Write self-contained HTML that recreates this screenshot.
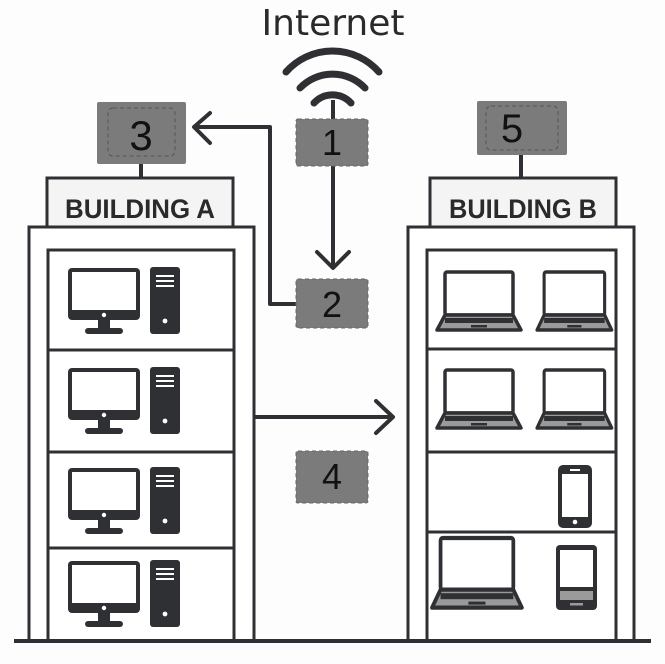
<!DOCTYPE html>
<html><head><meta charset="utf-8"><style>
html,body{margin:0;padding:0;background:#fdfdfd;}
svg{display:block}
</style></head><body>
<svg width="665" height="664" viewBox="0 0 665 664" xmlns="http://www.w3.org/2000/svg">
<defs>
<g id="desk">
  <rect x="0" y="0" width="72" height="52" rx="4" fill="#2f3033"/>
  <rect x="4" y="4" width="64" height="38" fill="#fff"/>
  <circle cx="36" cy="47" r="2.2" fill="#fff"/>
  <rect x="30" y="52" width="12" height="9" fill="#2f3033"/>
  <rect x="17" y="60" width="38" height="6" rx="3" fill="#2f3033"/>
  <rect x="82" y="-1" width="30" height="67" rx="3" fill="#2f3033"/>
  <rect x="88" y="7" width="18" height="2" fill="#fff"/>
  <rect x="88" y="12" width="18" height="2" fill="#fff"/>
  <rect x="88" y="17" width="18" height="2" fill="#fff"/>
  <circle cx="97" cy="53" r="2.4" fill="#fff"/>
</g>
<g id="lap">
  <rect x="8" y="0" width="68" height="43" rx="2" fill="#fff" stroke="#2f3033" stroke-width="3.5"/>
  <path d="M8 43 L76 43 L84 58 L0 58 Z" fill="#9a9a9a" stroke="#2f3033" stroke-width="3.5" stroke-linejoin="round"/>
  <rect x="8" y="46" width="68" height="5" fill="#2f3033"/>
  <rect x="34" y="53" width="16" height="2.5" fill="#2f3033"/>
</g>
</defs>

<text x="333" y="35" text-anchor="middle" font-family="'DejaVu Sans','Liberation Sans',sans-serif" font-size="36" fill="#2a2a2a">Internet</text>

<!-- wifi -->
<g fill="none" stroke="#2f3033" stroke-width="7" stroke-linecap="round">
  <path d="M286 72 A62 62 0 0 1 379 72"/>
  <path d="M300 88 A45 45 0 0 1 365 88"/>
  <path d="M314 103 A25 25 0 0 1 351 103"/>
</g>
<line x1="333" y1="100" x2="333" y2="120" stroke="#2f3033" stroke-width="4"/>

<!-- connectors -->
<g fill="none" stroke="#2f3033" stroke-width="4" stroke-linecap="round" stroke-linejoin="round">
  <line x1="333" y1="166" x2="333" y2="266"/>
  <path d="M317 252 L333 268 L349 252"/>
  <path d="M296 304 L270 304 L270 127 L196 127"/>
  <path d="M210 113 L194 127 L210 143"/>
  <line x1="255" y1="417" x2="392" y2="417"/>
  <path d="M376 401 L393 417 L376 433"/>
  <line x1="141" y1="163" x2="141" y2="178"/>
  <line x1="521" y1="154" x2="521" y2="178"/>
</g>

<!-- number boxes -->
<g font-family="'Liberation Sans',sans-serif" fill="#111" text-anchor="middle">
  <rect x="97" y="102" width="89" height="62" rx="2" fill="#7b7b7b"/>
  <rect x="108" y="108" width="67" height="48" rx="5" fill="none" stroke="#555" stroke-dasharray="4 3"/>
  <text x="141" y="150" font-size="42">3</text>
  <rect x="296" y="119" width="72" height="47" rx="2" fill="#7b7b7b" stroke="#666" stroke-dasharray="4 3"/>
  <text x="332" y="155" font-size="36">1</text>
  <rect x="296" y="279" width="72" height="49" rx="2" fill="#7b7b7b" stroke="#666" stroke-dasharray="4 3"/>
  <text x="332" y="317" font-size="36">2</text>
  <rect x="296" y="451" width="72" height="52" rx="2" fill="#7b7b7b" stroke="#666" stroke-dasharray="4 3"/>
  <text x="332" y="489" font-size="36">4</text>
  <rect x="477" y="101" width="90" height="54" rx="2" fill="#7b7b7b"/>
  <rect x="486" y="106" width="72" height="44" rx="5" fill="none" stroke="#555" stroke-dasharray="4 3"/>
  <text x="512" y="142" font-size="40">5</text>
</g>

<!-- Building A -->
<g fill="none" stroke="#2f3033" stroke-width="3">
  <rect x="47" y="178" width="186" height="49" fill="#f4f4f4"/>
  <rect x="29" y="227" width="225" height="414" fill="#fff"/>
  <rect x="48" y="250" width="186" height="391"/>
  <line x1="48" y1="350" x2="234" y2="350"/>
  <line x1="48" y1="452" x2="234" y2="452"/>
  <line x1="48" y1="548" x2="234" y2="548"/>
  <!-- Building B -->
  <rect x="430" y="178" width="186" height="49" fill="#f4f4f4"/>
  <rect x="408" y="227" width="226" height="414" fill="#fff"/>
  <rect x="427" y="250" width="189" height="391"/>
  <line x1="427" y1="349" x2="616" y2="349"/>
  <line x1="427" y1="452" x2="616" y2="452"/>
  <line x1="427" y1="532" x2="616" y2="532"/>
</g>
<text x="140" y="218" text-anchor="middle" font-family="'Liberation Sans',sans-serif" font-weight="bold" font-size="27" fill="#2a2a2a" textLength="150" lengthAdjust="spacingAndGlyphs">BUILDING A</text>
<text x="523" y="218" text-anchor="middle" font-family="'Liberation Sans',sans-serif" font-weight="bold" font-size="27" fill="#2a2a2a" textLength="148" lengthAdjust="spacingAndGlyphs">BUILDING B</text>

<use href="#desk" x="68" y="268"/>
<use href="#desk" x="68" y="368"/>
<use href="#desk" x="68" y="468"/>
<use href="#desk" x="68" y="561"/>

<use href="#lap" x="437" y="272"/>
<use href="#lap" transform="translate(537 272) scale(0.89 1)"/>
<use href="#lap" x="437" y="370"/>
<use href="#lap" transform="translate(537 370) scale(0.89 1)"/>
<use href="#lap" transform="translate(432 538) scale(1.07 1.2)"/>

<!-- phone -->
<rect x="558" y="465" width="34" height="63" rx="5" fill="#2f3033"/>
<rect x="562" y="474" width="26" height="43" fill="#fff"/>
<rect x="570" y="469" width="10" height="2" fill="#fff"/>
<circle cx="575" cy="522" r="2.3" fill="#fff"/>
<!-- tablet -->
<rect x="556" y="545" width="41" height="65" rx="4" fill="#2f3033"/>
<rect x="560" y="550" width="33" height="37" fill="#fff"/>
<rect x="560" y="591" width="33" height="9" fill="#9a9a9a"/>
<rect x="570" y="603" width="13" height="2.5" fill="#9a9a9a"/>

<line x1="14" y1="641" x2="651" y2="641" stroke="#2f3033" stroke-width="4"/>
</svg>
</body></html>
